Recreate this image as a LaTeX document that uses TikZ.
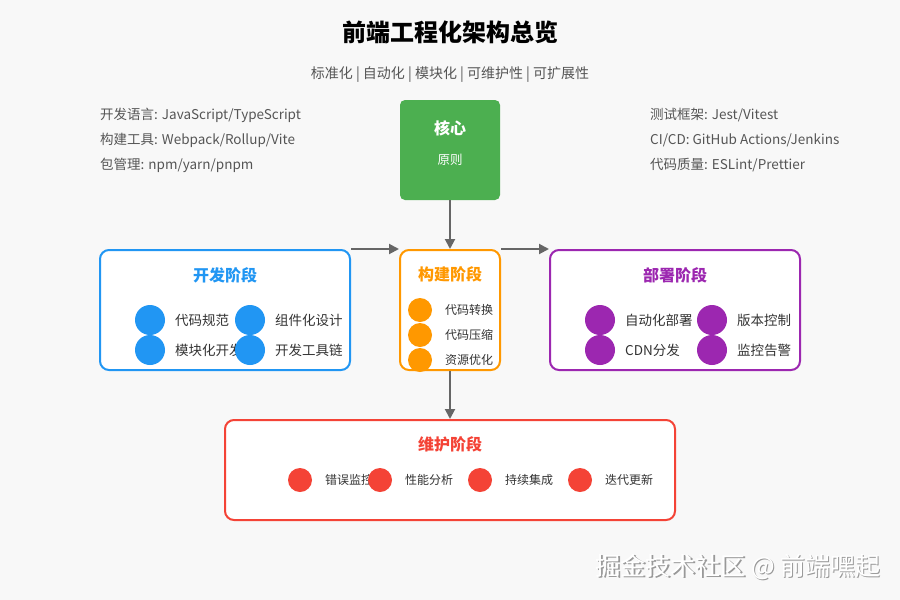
\documentclass[tikz,border=0pt]{standalone}
\usepackage{fontspec}
\setmainfont{Noto Sans CJK SC}
\usepackage{tikz}
\usetikzlibrary{arrows.meta}
\definecolor{bgcol}{HTML}{F8F8F8}
\definecolor{devblue}{HTML}{2196F3}
\definecolor{buildorange}{HTML}{FF9800}
\definecolor{deploypurple}{HTML}{9C27B0}
\definecolor{maintred}{HTML}{F44336}
\definecolor{coregreen}{HTML}{4CAF50}
\definecolor{arrowgray}{HTML}{666666}
\definecolor{infogray}{HTML}{555555}
\definecolor{itemgray}{HTML}{333333}
\newcommand{\fsize}[1]{\fontsize{#1}{#1}\selectfont}
\newcommand{\plotItems}[5]{
    % Draw the dots and their labels
    \foreach \x/\y/\t [count=\i] in {#5} {
      \fill[#2] (\x,\y) circle [radius=#3];
      \node[itemtext, font=\fsize{#4}] (#1-\i) at ({\x+25},\y) {\t};
    }
}

\begin{document}
\begin{tikzpicture}[x=1pt, y=-1pt,
    stagebox/.style={draw, line width=2pt, rounded corners=9pt, fill=white,
      inner sep=0pt, minimum width=#1},
    stagebox/.default=250pt,
    stagetitle/.style={font=\fsize{16}\bfseries, inner sep=0pt},
    itemtext/.style={anchor=west, inner sep=0pt, text=itemgray},
    infotext/.style={anchor=west, inner sep=0pt, text=infogray, font=\fsize{13.5}},
    flow/.style={draw=arrowgray, line width=2pt,
      -{Triangle[length=10pt, width=10pt]}}]
  % Background and bounding box
  \fill[bgcol] (0,0) rectangle (900,600);
  \useasboundingbox (0,0) rectangle (900,600);

  % Title and subtitle
  \node[font=\fsize{24}\bfseries, text=black] (title) at (450,32) {前端工程化架构总览};
  \node[font=\fsize{14}, text=infogray] (subtitle) at (450,75) {标准化 | 自动化 | 模块化 | 可维护性 | 可扩展性};

  % Tool lists
  \foreach \t [count=\i] in {开发语言: JavaScript/TypeScript, 构建工具: Webpack/Rollup/Vite, 包管理: npm/yarn/pnpm} {
    \node[infotext] (left-\i) at (100,{90+25*\i}) {\t};
  }
  \foreach \t [count=\i] in {测试框架: Jest/Vitest, CI/CD: GitHub Actions/Jenkins, 代码质量: ESLint/Prettier} {
    \node[infotext] (right-\i) at (650,{90+25*\i}) {\t};
  }

  % Core principle
  \node[fill=coregreen, rounded corners=5pt, minimum width=100pt, minimum height=100pt,
    inner sep=0pt] (core) at (450,150) {};
  \node[font=\fsize{16}\bfseries, text=white] (corehead) at (450,128) {核心};
  \node[font=\fsize{12.5}, text=white] (coresub) at (450,160) {原则};

  % Stage boxes
  \node[stagebox, draw=devblue, minimum height=120pt] (dev) at (225,310) {};
  \node[stagebox=100pt, draw=buildorange, minimum height=120pt] (build) at (450,310) {};
  \node[stagebox, draw=deploypurple, minimum height=120pt] (deploy) at (675,310) {};
  \node[stagebox=450pt, draw=maintred, minimum height=100pt] (maint) at (450,470) {};

  \node[stagetitle, text=devblue] (devtitle) at (225,275) {开发阶段};
  \node[stagetitle, text=buildorange] (buildtitle) at (450,274) {构建阶段};
  \node[stagetitle, text=deploypurple] (deploytitle) at (675,275) {部署阶段};
  \node[stagetitle, text=maintred] (mainttitle) at (450,444) {维护阶段};

  % Stage items
  \plotItems{devitem}{devblue}{15}{13.5}{150/320/代码规范, 250/320/组件化设计, 150/350/模块化开发, 250/350/开发工具链}
  \plotItems{builditem}{buildorange}{12}{12}{420/310/代码转换, 420/335/代码压缩, 420/360/资源优化}
  \plotItems{deployitem}{deploypurple}{15}{13.5}{600/320/自动化部署, 712/320/版本控制, 600/350/CDN分发, 712/350/监控告警}
  \plotItems{maintitem}{maintred}{12}{12}{300/480/错误监控, 380/480/性能分析, 480/480/持续集成, 580/480/迭代更新}

  % Connectors
  \draw[flow] (core.south) -- (build.north);
  \draw[flow] (dev.north east) -- (build.north west);
  \draw[flow] (build.north east) -- (deploy.north west);
  \draw[flow] (build.south) -- (maint.north);

  % Watermark
  \node[font=\fsize{25}, text=gray!80] (markshadow) at (739.5,568.5) {掘金技术社区 @ 前端嘿起};
  \node[font=\fsize{25}, text=white] (mark) at (738,567) {掘金技术社区 @ 前端嘿起};
\end{tikzpicture}
\end{document}
